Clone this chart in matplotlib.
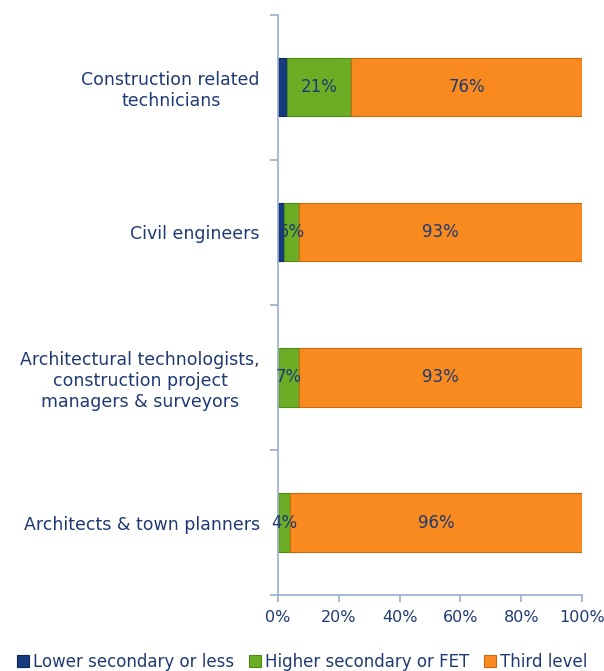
import numpy as np
import matplotlib.pyplot as plt
from matplotlib.ticker import FuncFormatter

categories = ['Construction related\ntechnicians', 'Civil engineers',
              'Architectural technologists,\nconstruction project\nmanagers & surveyors',
              'Architects & town planners']
lower = [3, 2, 0, 0]
higher = [21, 5, 7, 4]
third = [76, 93, 93, 96]
series_names = ['Lower secondary or less', 'Higher secondary or FET', 'Third level']

text_col = '#1F3A73'
axis_col = '#98AECF'
colors = ['#173B80', '#6BAE25', '#F98A1F']
edges = ['#0E2659', '#4E8A16', '#C96A10']

fig = plt.figure(figsize=(6.04, 6.71), dpi=100)
ax = fig.add_axes([278 / 604, 1 - 595 / 671, 304 / 604, 580 / 671])

y = np.arange(len(categories))
left = np.zeros(len(categories))
for vals, name, c, ec in zip([lower, higher, third], series_names, colors, edges):
    vals = np.array(vals, dtype=float)
    ax.barh(y, vals, left=left, height=0.4, color=c, edgecolor=ec,
            linewidth=0.8, label=name)
    if name != series_names[0]:
        for yi, l, v in zip(y, left, vals):
            ax.text(l + v / 2, yi, f'{v:.0f}%', ha='center', va='center',
                    fontsize=12, color=text_col)
    left += vals

ax.set_xlim(0, 100)
ax.set_ylim(len(categories) - 0.5, -0.5)
ax.set_xticks(np.arange(0, 101, 20))
ax.xaxis.set_major_formatter(FuncFormatter(lambda v, p: f'{v:.0f}%'))
ax.set_yticks(np.arange(-0.5, len(categories), 1))
ax.set_yticklabels([])
ax.set_yticks(y, minor=True)
ax.set_yticklabels(categories, minor=True, fontsize=12.5, color=text_col,
                   linespacing=1.2)
for lab in ax.get_yticklabels(minor=True):
    lab.set_horizontalalignment('right')
    lab.set_multialignment('center')
ax.tick_params(axis='y', which='minor', length=0, pad=13)
ax.tick_params(axis='y', which='major', length=6, color=axis_col, width=1.2)
ax.tick_params(axis='x', length=5, color=axis_col, width=1.2,
               labelsize=11.5, labelcolor=text_col, pad=6)

for s in ['top', 'right']:
    ax.spines[s].set_visible(False)
for s in ['left', 'bottom']:
    ax.spines[s].set_color(axis_col)
    ax.spines[s].set_linewidth(1.2)

leg = fig.legend(loc='center', bbox_to_anchor=(0.5, 1 - 662 / 671), ncol=3,
                 frameon=False, fontsize=12, handlelength=0.7, handleheight=0.7,
                 handletextpad=0.25, columnspacing=0.9, borderaxespad=0)
for t in leg.get_texts():
    t.set_color(text_col)

fig.savefig('out.png', dpi=100)
